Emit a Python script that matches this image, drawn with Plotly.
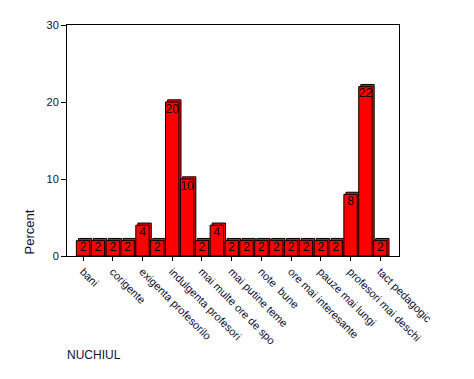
import plotly.graph_objects as go

# Data: 21 categories; only every other one is labelled in the reference
values = [2, 2, 2, 2, 4, 2, 20, 10, 2, 4, 2, 2, 2, 2, 2, 2, 2, 2, 8, 22, 2]
tick_labels = ["bani", "", "corigente", "", "exigenta profesorilo", "",
               "indulgenta profesori", "", "mai multe ore de spo", "",
               "mai putine teme", "", "note  bune", "", "ore mai interesante", "",
               "pauze mai lungi", "", "profesori mai deschi", "", "tact pedagogic"]
x_title = "NUCHIUL"
y_title = "Percent"

xs = list(range(len(values)))
tickvals = [i for i, t in enumerate(tick_labels) if t]
ticktext = [t for t in tick_labels if t]

FONT = "Liberation Sans, Arial"

fig = go.Figure()
# back face (3D effect)
fig.add_trace(go.Bar(x=xs, y=[v + 0.28 for v in values], width=0.9, offset=-0.31,
                     marker=dict(color="#FF0000", line=dict(color="black", width=1)),
                     hoverinfo="skip", showlegend=False))
# front face
fig.add_trace(go.Bar(x=xs, y=values, width=0.9, offset=-0.45,
                     marker=dict(color="#FF0000", line=dict(color="black", width=1)),
                     showlegend=False))
# value labels
fig.add_trace(go.Scatter(x=xs, y=[v - 0.2 for v in values], mode="text",
                         text=[str(v) for v in values],
                         textposition="bottom center",
                         textfont=dict(family=FONT, size=12, color="black"),
                         showlegend=False, hoverinfo="skip"))

fig.update_layout(
    width=466, height=371,
    margin=dict(l=59, r=75, t=11, b=123),
    paper_bgcolor="white", plot_bgcolor="white",
    barmode="overlay",
    font=dict(family=FONT, size=11, color="black"),
    xaxis=dict(range=[-1.08, 21.26], tickmode="array", tickvals=tickvals, ticktext=ticktext,
               tickangle=45, ticks="outside", ticklen=4, tickcolor="black",
               showline=True, linecolor="black", linewidth=1, mirror=True,
               showgrid=False, zeroline=False,
               tickfont=dict(family=FONT, size=11, color="#111133")),
    yaxis=dict(range=[0, 30], tickvals=[0, 10, 20, 30], ticks="outside", ticklen=5,
               tickcolor="black", showline=True, linecolor="black", linewidth=1, mirror=True,
               showgrid=False, zeroline=False,
               tickfont=dict(family=FONT, size=11, color="#111133")),
    annotations=[
        dict(text=y_title, xref="paper", yref="paper", x=-0.1115, y=0, xanchor="center",
             yanchor="bottom", textangle=-90, showarrow=False,
             font=dict(family=FONT, size=13, color="#111133")),
        dict(text=x_title, xref="paper", yref="paper", x=-0.006, y=-0.427, xanchor="left",
             yanchor="middle", showarrow=False,
             font=dict(family=FONT, size=12, color="#111133")),
    ],
)

fig.write_html("out.html")
